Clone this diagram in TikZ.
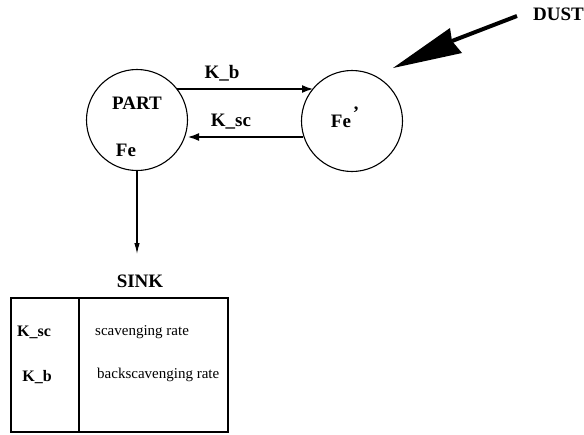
\documentclass[tikz,border=0pt]{standalone}
\usepackage{fontspec}
\setmainfont{Liberation Serif}
\usetikzlibrary{arrows.meta}
\begin{document}
\begin{tikzpicture}[x=1pt,y=-1pt,
  circ/.style={draw,circle,minimum size=101pt,inner sep=0pt,line width=1.1pt},
  lbl/.style={font=\fontsize{19}{22}\selectfont\bfseries,inner sep=0pt},
  tlbl/.style={font=\fontsize{16}{19}\selectfont\bfseries,inner sep=0pt},
  small/.style={font=\fontsize{15}{17}\selectfont,inner sep=0pt,anchor=west},
  flow/.style={line width=2.6pt,-{Latex[length=12pt,width=8pt]}},
  sinkarrow/.style={line width=1.1pt,-{Latex[length=11pt,width=5.5pt]}}]
\useasboundingbox (0,0) rectangle (584,434);
\node[circ] (part) at (137,120) {};
\node[circ] (fep) at (352,121) {};
\node[lbl] (partlbl) at (137,103) {PART};
\node[lbl] (felbl) at (126,150) {Fe};
\node[lbl] (feplbl) at (341,121) {Fe};
\node[lbl] (prime) at (356,113) {’};
% flows
\coordinate (kbs) at (177,89);
\coordinate (kbe) at (314,89);
\draw[flow] (kbs) -- (kbe);
\node[lbl] (kb) at (222,73) {K\_b};
\coordinate (kss) at (303,137);
\coordinate (kse) at (187,137);
\draw[flow] (kss) -- (kse);
\node[lbl] (ksc) at (231,122) {K\_sc};
% sink
\coordinate (sinkend) at (137,254);
\draw[sinkarrow] (part.south) -- (sinkend);
\node[lbl] (sink) at (140,281) {SINK};
% table
\draw[line width=1.1pt] (11,298) rectangle (228,432);
\draw[line width=1.1pt] (79,298) -- (79,432);
\node[tlbl] (tksc) at (34,332) {K\_sc};
\node[tlbl] (tkb) at (37,377) {K\_b};
\node[small] (t1) at (95,332) {scavenging rate};
\node[small] (t2) at (97,375) {backscavenging rate};
% dust
\node[lbl,anchor=west] (dust) at (533,14) {DUST};
\coordinate (dstart) at (517,16);
\coordinate (dnotch) at (452,41);
\draw[line width=4pt] (dstart) -- (dnotch);
\fill (393,68) -- (450,28) -- (452,41) -- (462,53) -- cycle;
\end{tikzpicture}
\end{document}
